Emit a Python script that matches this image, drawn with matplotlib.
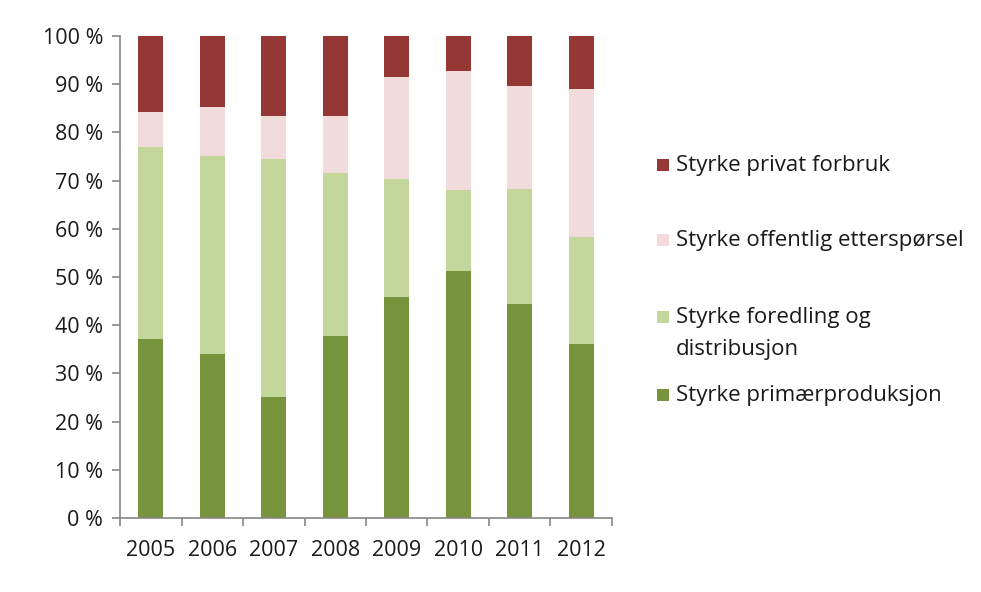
import numpy as np
import matplotlib.pyplot as plt
from matplotlib.patches import Rectangle
from matplotlib.ticker import FuncFormatter

plt.rcParams['font.family'] = ['Open Sans', 'DejaVu Sans']

# Data (andel i prosent, lest av figuren)
years = ['2005', '2006', '2007', '2008', '2009', '2010', '2011', '2012']
primaer = [37.1, 34.1, 25.2, 37.7, 45.8, 51.3, 44.3, 36.1]
foredling = [39.9, 41.1, 49.3, 33.9, 24.6, 16.8, 24.0, 22.1]
offentlig = [7.2, 10.1, 8.8, 11.7, 21.0, 24.6, 21.4, 30.9]
privat = [15.8, 14.7, 16.7, 16.7, 8.6, 7.3, 10.3, 10.9]
labels = ['Styrke privat forbruk', 'Styrke offentlig etterspørsel',
          'Styrke foredling og\ndistribusjon', 'Styrke primærproduksjon']
colors = ['#953735', '#F2DCDB', '#C3D69B', '#77933C']

W, H = 981, 592
fig = plt.figure(figsize=(W / 100, H / 100), dpi=100)
ax = fig.add_axes([120 / W, 1 - 518 / H, (612 - 120) / W, (518 - 36) / H])

x = np.arange(len(years))
bw = 0.41
series = [primaer, foredling, offentlig, privat]
cols = colors[::-1]
bottom = np.zeros(len(years))
for vals, c in zip(series, cols):
    ax.bar(x, vals, bw, bottom=bottom, color=c, linewidth=0)
    bottom += np.array(vals)

ax.set_xlim(-0.5, len(years) - 0.5)
ax.set_ylim(0, 100)
ax.set_yticks(np.arange(0, 101, 10))
ax.yaxis.set_major_formatter(FuncFormatter(lambda v, p: '%d %%' % v))

ax.set_xticks(np.arange(-0.5, len(years), 1))
ax.set_xticklabels([])
ax.set_xticks(x, minor=True)
ax.set_xticklabels(years, minor=True)

grey = '#868686'
for s in ['top', 'right']:
    ax.spines[s].set_visible(False)
for s in ['left', 'bottom']:
    ax.spines[s].set_color(grey)
    ax.spines[s].set_linewidth(1.2)
ax.tick_params(axis='y', which='major', length=6, width=1.2, color=grey,
               pad=6, labelsize=15.5, labelcolor='#1a1a1a')
ax.tick_params(axis='x', which='major', length=6, width=1.2, color=grey)
ax.tick_params(axis='x', which='minor', length=0, pad=16,
               labelsize=15.5, labelcolor='#1a1a1a')

# legend drawn by hand (Excel style, handle aligned to first line)
leg_y = [165, 240, 317, 395]
sq = 12
for lab, c, yy in zip(labels, colors, leg_y):
    fig.patches.append(Rectangle((657 / W, 1 - (yy + sq / 2) / H), sq / W, sq / H,
                                 transform=fig.transFigure, color=c, lw=0))
    fig.text(676 / W, 1 - yy / H, lab.split('\n')[0], fontsize=16,
             va='center', ha='left', color='#1a1a1a')
    if '\n' in lab:
        fig.text(676 / W, 1 - (yy + 33) / H, lab.split('\n')[1], fontsize=16,
                 va='center', ha='left', color='#1a1a1a')

fig.savefig('out.png', dpi=100)
